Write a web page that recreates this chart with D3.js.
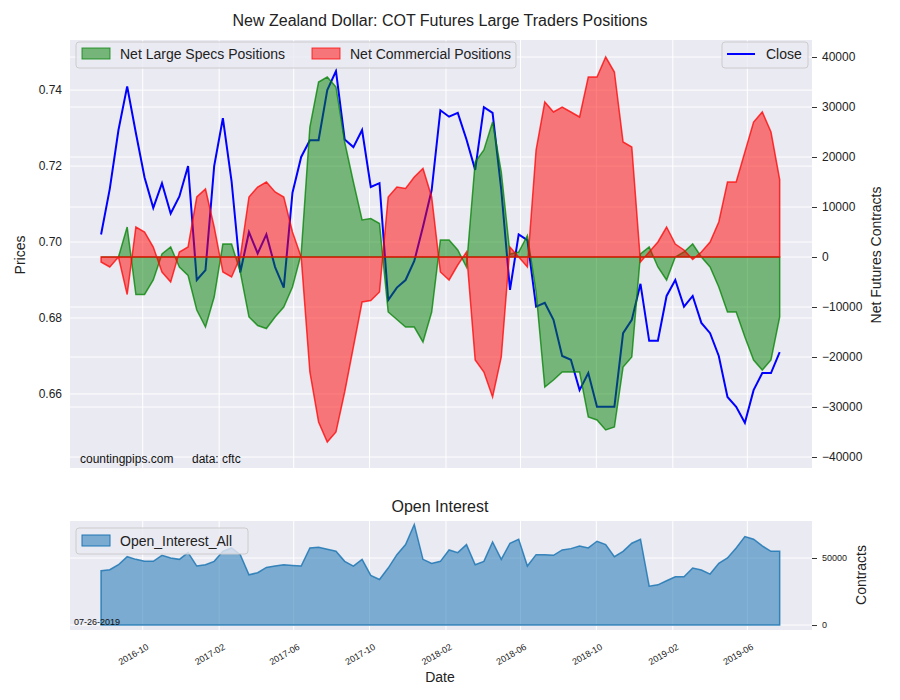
<!DOCTYPE html>
<html><head><meta charset="utf-8">
<script src="https://cdn.jsdelivr.net/npm/d3@7"></script>
<style>body{margin:0;background:#fff}text{font-family:"Liberation Sans",Arial,sans-serif}</style>
</head><body>
<script>
// biweekly report dates, 2016-07-26 .. 2019-07-23
const startDate = new Date(2016, 6, 26);
const dates = d3.range(79).map(i => d3.timeDay.offset(startDate, i * 14));

const close = [0.702,0.714,0.7295,0.741,0.7287,0.717,0.709,0.7155,0.7075,0.712,
  0.72,0.69,0.6926,0.72,0.7326,0.716,0.692,0.7026,0.697,0.702,
  0.6934,0.688,0.713,0.7224,0.7268,0.7268,0.74,0.745,0.727,0.725,
  0.7295,0.7145,0.7155,0.6847,0.688,0.69,0.695,0.704,0.7137,0.7347,
  0.733,0.734,0.727,0.719,0.7355,0.734,0.7137,0.6874,0.702,0.7005,
  0.683,0.684,0.6795,0.67,0.669,0.661,0.6655,0.6566,0.6566,0.6566,
  0.676,0.6795,0.689,0.674,0.674,0.6858,0.69,0.683,0.6858,0.6787,
  0.676,0.67,0.6592,0.6566,0.6524,0.661,0.6655,0.6655,0.671];

const specs = [0,0,0,6,-7.5,-7.5,-4.6,0.6,2,-2,
  -3.7,-10.6,-14,-8,2.6,2.6,-3,-12,-13.7,-14.3,
  -12,-10,-6,0.6,26,35,36,34,23,15,
  7.4,7.7,6.7,-11,-12.5,-14,-14,-17,-11,3.4,
  3.4,1.4,-2,19,21.4,27,17,0.6,1,4.3,
  -7,-26,-24.6,-23,-23,-23,-32,-32.6,-34.6,-34,
  -22,-20,0.6,2,-2,-4.6,0,1,2.6,0,
  -2,-6,-11,-11,-16,-20.6,-22.6,-20.6,-12].map(v => v * 1000);

const commercial = [-1,-2,0,-7.5,6,5,2,-3,-5,1,
  2,12,13.6,6,-3,-4,0,12,14,15,
  13,12,5,0,-23,-33,-37,-35,-27,-18,
  -9,-8.7,-7,12,14,13.7,16,17.7,12,-3,
  -4.6,-1.6,1,-20.6,-23,-28,-20,2,0,-2,
  21.4,31,29,30,29,28,36,36,40,37,
  23,22,-1,1,3,6,2.6,1.4,-0.5,1,
  3,7,15,15,21,27,29,25,15.5].map(v => v * 1000);

const openInterest = [40500,41250,45000,51000,49000,47500,47500,52000,50000,49000,
  54000,44000,45000,47500,55000,57500,52500,37500,39000,43000,
  44000,45000,44500,44000,57500,58000,56500,55000,47500,44000,
  49000,37000,34000,42500,52500,60000,75000,49000,46000,47500,
  56000,54000,60000,45000,47500,62000,49000,61000,64000,44000,
  52500,52500,52000,56000,57000,59000,57500,62500,60000,51000,
  55000,61000,64000,29000,30000,33000,36000,36000,42500,41000,
  38000,46000,50000,57500,66000,64000,59000,55000,55000];

const priceTicks = [0.66, 0.68, 0.70, 0.72, 0.74];
const netTicks = [-40000, -30000, -20000, -10000, 0, 10000, 20000, 30000, 40000];
const oiTicks = [0, 50000];
const xTickLabels = ["2016-10","2017-02","2017-06","2017-10","2018-02","2018-06","2018-10","2019-02","2019-06"];

const W = 900, H = 700;
const L = 70, R = 812;
const top1 = 40, bot1 = 468, top2 = 521, bot2 = 630;
const bg = "#eaeaf2";

const svg = d3.select("body").append("svg").attr("width", W).attr("height", H);

const parseMonth = d3.timeParse("%Y-%m");
const xTicks = xTickLabels.map(parseMonth);
const x = d3.scaleTime()
  .domain([d3.timeDay.offset(dates[0], -50), d3.timeDay.offset(dates[78], 52)])
  .range([L, R]);
const yP = d3.scaleLinear().domain([0.6405, 0.7532]).range([bot1, top1]);
const yN = d3.scaleLinear().domain([-42200, 43400]).range([bot1, top1]);
const yO = d3.scaleLinear().domain([-3700, 77600]).range([bot2, top2]);

function panel(t, b) {
  svg.append("rect").attr("x", L).attr("y", t).attr("width", R - L).attr("height", b - t).attr("fill", bg);
  svg.append("g").selectAll("line").data(xTicks).join("line")
    .attr("x1", d => x(d)).attr("x2", d => x(d)).attr("y1", t).attr("y2", b)
    .attr("stroke", "#fff").attr("stroke-width", 1);
}
function hgrid(scale, ticks) {
  svg.append("g").selectAll("line").data(ticks).join("line")
    .attr("x1", L).attr("x2", R).attr("y1", d => scale(d)).attr("y2", d => scale(d))
    .attr("stroke", "#fff").attr("stroke-width", 1);
}

// top panel
panel(top1, bot1);
hgrid(yP, priceTicks);
hgrid(yN, netTicks);

svg.append("path").datum(close)
  .attr("d", d3.line().x((d, i) => x(dates[i])).y(d => yP(d)))
  .attr("fill", "none").attr("stroke", "blue").attr("stroke-width", 2);

function band(vals, col) {
  svg.append("path").datum(vals)
    .attr("d", d3.area().x((d, i) => x(dates[i])).y0(yN(0)).y1(d => yN(d)))
    .attr("fill", col).attr("fill-opacity", 0.5)
    .attr("stroke", col).attr("stroke-width", 1.5).attr("stroke-opacity", 0.75);
}
band(specs, "green");
band(commercial, "red");

const axL = svg.append("g").attr("transform", `translate(${L},0)`)
  .call(d3.axisLeft(yP).tickValues(priceTicks).tickFormat(d3.format(".2f")).tickSize(0).tickPadding(8));
const axR = svg.append("g").attr("transform", `translate(${R},0)`)
  .call(d3.axisRight(yN).tickValues(netTicks).tickFormat(d3.format("d")).tickSize(5).tickPadding(5));
[axL, axR].forEach(a => {
  a.select(".domain").remove();
  a.selectAll("text").attr("font-size", 12).attr("fill", "#222");
  a.selectAll("line").attr("stroke", "#333");
});

svg.append("text").attr("x", 440).attr("y", 26).attr("text-anchor", "middle")
  .attr("font-size", 16).attr("fill", "#222").text("New Zealand Dollar: COT Futures Large Traders Positions");
svg.append("text").attr("transform", "translate(25,255) rotate(-90)").attr("text-anchor", "middle")
  .attr("font-size", 14).attr("fill", "#222").text("Prices");
svg.append("text").attr("transform", "translate(881,255) rotate(-90)").attr("text-anchor", "middle")
  .attr("font-size", 14).attr("fill", "#222").text("Net Futures Contracts");
svg.append("text").attr("x", 80).attr("y", 463).attr("font-size", 12).attr("fill", "#111")
  .text("countingpips.com");
svg.append("text").attr("x", 192).attr("y", 463).attr("font-size", 12).attr("fill", "#111")
  .text("data: cftc");

// legends
function legendBox(x0, y0, w, h) {
  svg.append("rect").attr("x", x0).attr("y", y0).attr("width", w).attr("height", h).attr("rx", 3)
    .attr("fill", bg).attr("fill-opacity", 0.8).attr("stroke", "#ccc");
}
legendBox(76, 42, 440, 26);
[["Net Large Specs Positions", "green", 82], ["Net Commercial Positions", "red", 312]].forEach(([t, c, lx]) => {
  svg.append("rect").attr("x", lx).attr("y", 48).attr("width", 28).attr("height", 11)
    .attr("fill", c).attr("fill-opacity", 0.5).attr("stroke", c).attr("stroke-opacity", 0.75);
  svg.append("text").attr("x", lx + 38).attr("y", 59).attr("font-size", 14).attr("fill", "#222").text(t);
});
legendBox(722, 42, 86, 26);
svg.append("line").attr("x1", 727).attr("x2", 755).attr("y1", 54).attr("y2", 54).attr("stroke", "blue").attr("stroke-width", 2);
svg.append("text").attr("x", 766).attr("y", 59).attr("font-size", 14).attr("fill", "#222").text("Close");

// bottom panel
panel(top2, bot2);
hgrid(yO, oiTicks);
svg.append("path").datum(openInterest)
  .attr("d", d3.area().x((d, i) => x(dates[i])).y0(yO(0)).y1(d => yO(d)))
  .attr("fill", "#1f77b4").attr("fill-opacity", 0.55)
  .attr("stroke", "#1f77b4").attr("stroke-opacity", 0.85).attr("stroke-width", 1.5);

const axO = svg.append("g").attr("transform", `translate(${R},0)`)
  .call(d3.axisRight(yO).tickValues(oiTicks).tickFormat(d3.format("d")).tickSize(5).tickPadding(5));
axO.select(".domain").remove();
axO.selectAll("text").attr("font-size", 9).attr("fill", "#222");
axO.selectAll("line").attr("stroke", "#333");

const axX = svg.append("g").attr("transform", `translate(0,${bot2})`)
  .call(d3.axisBottom(x).tickValues(xTicks).tickFormat(d3.timeFormat("%Y-%m")).tickSize(0).tickPadding(6));
axX.select(".domain").remove();
axX.selectAll("text").attr("font-size", 9).attr("fill", "#222")
  .attr("text-anchor", "end").attr("transform", "translate(0,8) rotate(-30)").attr("dy", "0.7em");

svg.append("text").attr("x", 440).attr("y", 512).attr("text-anchor", "middle")
  .attr("font-size", 16).attr("fill", "#222").text("Open Interest");
svg.append("text").attr("transform", "translate(866,575) rotate(-90)").attr("text-anchor", "middle")
  .attr("font-size", 14).attr("fill", "#222").text("Contracts");
svg.append("text").attr("x", 440).attr("y", 682).attr("text-anchor", "middle")
  .attr("font-size", 14).attr("fill", "#222").text("Date");
svg.append("text").attr("x", 74).attr("y", 625).attr("font-size", 9).attr("fill", "#111").text("07-26-2019");

legendBox(76, 528, 172, 26);
svg.append("rect").attr("x", 82).attr("y", 535).attr("width", 28).attr("height", 11)
  .attr("fill", "#1f77b4").attr("fill-opacity", 0.55).attr("stroke", "#1f77b4");
svg.append("text").attr("x", 120).attr("y", 546).attr("font-size", 14).attr("fill", "#222").text("Open_Interest_All");
</script>
</body></html>
